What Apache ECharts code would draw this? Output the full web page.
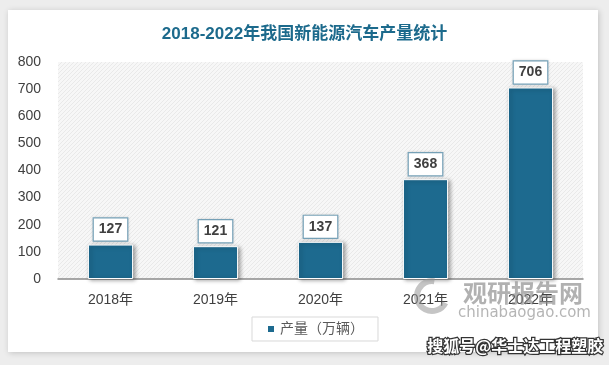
<!DOCTYPE html>
<html><head><meta charset="utf-8">
<script src="https://cdn.jsdelivr.net/npm/echarts@6/dist/echarts.min.js"></script>
<style>html,body{margin:0;padding:0;background:#ededed;}#c{width:609px;height:365px;}</style>
</head><body><div id="c"></div>
<script>
const titleText = '2018-2022年我国新能源汽车产量统计';
const categories = ['2018年','2019年','2020年','2021年','2022年'];
const seriesName = '产量（万辆）';
const production = [127, 121, 137, 368, 706];
const yMin = 0, yMax = 800, yStep = 100;

const FONT = '"Liberation Sans","Noto Sans CJK SC",sans-serif';

// hatched pattern for plot background
const pc = document.createElement('canvas');
pc.width = 4; pc.height = 4;
const px = pc.getContext('2d');
px.fillStyle = '#f7f7f7'; px.fillRect(0,0,4,4);
px.strokeStyle = '#e9e9e9'; px.lineWidth = 1;
px.beginPath(); px.moveTo(0,4); px.lineTo(4,0); px.stroke();
px.beginPath(); px.moveTo(-1,1); px.lineTo(1,-1); px.stroke();
px.beginPath(); px.moveTo(3,5); px.lineTo(5,3); px.stroke();

const chart = echarts.init(document.getElementById('c'), null, {renderer:'canvas'});
chart.setOption({
  backgroundColor: '#ededed',
  animation: false,
  title: {
    text: titleText, left: 'center', top: 21,
    textStyle: {color:'#1c6a8c', fontSize:17, fontWeight:'bold', fontFamily: FONT}
  },
  graphic: [
    {type:'rect', z:-10, shape:{x:8,y:10,width:590,height:342},
     style:{fill:'#ffffff', shadowBlur:6, shadowColor:'rgba(0,0,0,0.18)', shadowOffsetX:1, shadowOffsetY:1}},
    {type:'arc', z:50, shape:{cx:432, cy:296, r:15, startAngle:Math.PI*0.15, endAngle:Math.PI*1.55},
     style:{stroke:'rgba(150,150,150,0.55)', lineWidth:6, fill:null}},
    {type:'text', z:50, left:463, top:281,
     style:{text:'观研报告网', fill:'rgba(135,135,135,0.65)', font:'bold 24px "Noto Sans CJK SC",sans-serif'}},
    {type:'text', z:50, left:458, top:306,
     style:{text:'chinabaogao.com', fill:'rgba(150,150,150,0.7)', font:'15px "DejaVu Sans",sans-serif'}},
    {type:'text', z:50, left:426, top:337,
     style:{text:'搜狐号@华士达工程塑胶', fill:'#ffffff', stroke:'#333333', lineWidth:2.5,
            font:'bold 16px "Noto Sans CJK SC",sans-serif'}}
  ],
  legend: {
    data: [seriesName], left: 252, top: 317,
    icon: 'rect', itemWidth: 8, itemHeight: 8, itemGap: 5,
    padding: [5, 14, 5, 14],
    borderColor: '#d9d9d9', borderWidth: 1, backgroundColor: '#ffffff',
    textStyle: {color:'#595959', fontSize:14, fontFamily: FONT}
  },
  grid: {left:58, right:26, top:62, bottom:86, show:true, borderWidth:0,
         backgroundColor:{image: pc, repeat:'repeat'}},
  xAxis: {
    type:'category', data: categories,
    axisLine:{show:true, lineStyle:{color:'#8c8c8c', width:1.5}},
    axisTick:{show:false},
    axisLabel:{color:'#404040', fontSize:14, margin:14, fontFamily: FONT}
  },
  yAxis: {
    type:'value', min:yMin, max:yMax, interval:yStep,
    axisLine:{show:false}, axisTick:{show:false}, splitLine:{show:false},
    axisLabel:{color:'#404040', fontSize:14, margin:17, fontFamily: FONT}
  },
  series: [{
    name: seriesName, type:'bar', data: production, barWidth:'43%',
    itemStyle:{color:'#1d6a8f', borderColor:'#ffffff', borderWidth:1,
               shadowBlur:4, shadowColor:'rgba(0,0,0,0.35)', shadowOffsetX:2, shadowOffsetY:1},
    label:{show:true, position:'top', distance:4,
           color:'#404040', fontSize:14, fontWeight:'bold', fontFamily: FONT,
           backgroundColor:'#ffffff', borderColor:'#7aa6bd', borderWidth:1.2,
           padding:[3,5,3,5], lineHeight:16,
           shadowBlur:3, shadowColor:'rgba(0,0,0,0.15)'}
  }]
});
</script></body></html>
